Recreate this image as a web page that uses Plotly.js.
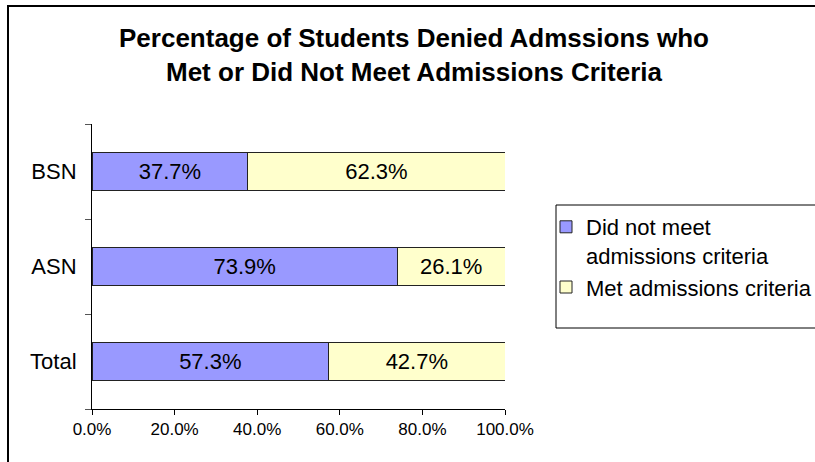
<!DOCTYPE html>
<html>
<head>
<meta charset="utf-8">
<script src="https://cdn.plot.ly/plotly-3.0.1.min.js"></script>
<style>html,body{margin:0;padding:0;background:#fff;}#chart{width:815px;height:462px;}</style>
</head>
<body>
<div id="chart"></div>
<script>
const categories = ['Total', 'ASN', 'BSN'];
const didNotMeet = [0.573, 0.739, 0.377];
const metCriteria = [0.427, 0.261, 0.623];
const seriesNames = ['Did not meet<br>admissions criteria', 'Met admissions criteria'];
const xTickValues = [0, 0.2, 0.4, 0.6, 0.8, 1.0];

const FONT = '"Liberation Sans", Arial, sans-serif';
const W = 815, H = 462;
const L = 92, R = 505, T = 124, B = 409;
const px = p => (p - L) / (R - L);
const py = q => (B - q) / (B - T);

function fmt(v) { return (v * 100).toFixed(1) + '%'; }

const common = {
  type: 'bar', orientation: 'h', y: categories,
  textposition: 'inside', insidetextanchor: 'middle', textangle: 0,
  constraintext: 'none',
  textfont: {family: FONT, size: 22, color: '#000'},
  hoverinfo: 'skip'
};

const traces = [
  Object.assign({}, common, {
    name: seriesNames[0], x: didNotMeet, text: didNotMeet.map(fmt),
    marker: {color: '#9999FF', line: {color: '#222', width: 1}}
  }),
  Object.assign({}, common, {
    name: seriesNames[1], x: metCriteria, text: metCriteria.map(fmt),
    marker: {color: '#FFFFCC', line: {color: '#222', width: 1}}
  })
];

const layout = {
  width: W, height: H,
  margin: {l: L, r: W - R, t: T, b: H - B, pad: 0, autoexpand: false},
  paper_bgcolor: '#fff', plot_bgcolor: '#fff',
  barmode: 'stack', bargap: 0.59,
  font: {family: FONT, color: '#000'},
  title: {
    text: '<b>Percentage of Students Denied Admssions who<br>Met or Did Not Meet Admissions Criteria</b>',
    font: {family: FONT, size: 26, color: '#000'},
    x: 414 / W, xanchor: 'center', xref: 'container',
    y: 1 - 47 / H, yanchor: 'top', yref: 'container'
  },
  xaxis: {
    range: [0, 1], tickvals: xTickValues, tickformat: '.1%',
    showline: true, linecolor: '#000', linewidth: 1,
    ticks: 'outside', ticklen: 5, tickcolor: '#000',
    showgrid: false, zeroline: false,
    tickfont: {family: FONT, size: 17, color: '#000'},
    automargin: false, fixedrange: true
  },
  yaxis: {
    type: 'category', categoryorder: 'array', categoryarray: categories,
    showline: true, linecolor: '#000', linewidth: 1,
    ticks: 'outside', ticklen: 6, tickcolor: '#555', tickson: 'boundaries',
    showgrid: false, zeroline: false,
    tickfont: {family: FONT, size: 22, color: '#000'},
    ticklabelstandoff: 10,
    automargin: false, fixedrange: true
  },
  showlegend: true,
  legend: {
    x: px(546), xanchor: 'left', y: py(206), yanchor: 'top',
    bgcolor: 'rgba(0,0,0,0)', borderwidth: 0,
    font: {family: FONT, size: 22, color: '#000'},
    traceorder: 'normal', valign: 'top'
  },
  shapes: [
    {type: 'rect', xref: 'paper', yref: 'paper',
     x0: px(8), x1: px(840), y0: py(480), y1: py(6),
     line: {color: '#000', width: 2}, fillcolor: 'rgba(0,0,0,0)', layer: 'below'},
    {type: 'rect', xref: 'paper', yref: 'paper',
     x0: px(556), x1: px(840), y0: py(328), y1: py(205),
     line: {color: '#000', width: 1}, fillcolor: 'rgba(0,0,0,0)', layer: 'below'}
  ]
};

Plotly.newPlot('chart', traces, layout, {displayModeBar: false, staticPlot: true});
</script>
</body>
</html>
